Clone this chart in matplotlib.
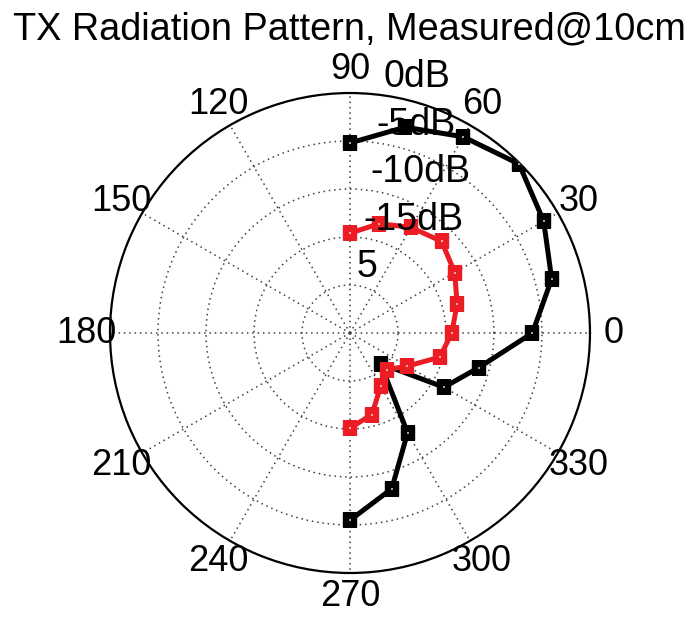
import numpy as np
import matplotlib.pyplot as plt

plt.rcParams['font.family'] = ['Liberation Sans', 'DejaVu Sans']

# measured angles (deg) and relative level (dB)
angles_deg = [90, 75, 60, 45, 30, 15, 0, -15, -30, -45, -60, -75, -90]
black_db = [-5.2, -2.8, -1.4, -0.1, -1.7, -3.25, -6.0, -11.1, -13.7, -20.5, -13.0, -8.2, -5.5]
red_db = [-14.6, -13.2, -12.3, -11.5, -12.4, -13.45, -14.4, -15.3, -18.1, -19.6, -18.6, -16.2, -15.1]

r_offset = 25
r_ticks = [5, 10, 15, 20, 25]
r_tick_labels = ['5', '-15dB', '-10dB', '-5dB', '0dB']
theta_ticks = list(range(0, 360, 30))

fig = plt.figure(figsize=(6.91, 6.18), dpi=100)
ax = fig.add_axes([0.1592, 0.0728, 0.6946, 0.7767], projection='polar')

th = np.deg2rad(angles_deg)
ax.plot(th, np.array(black_db) + r_offset, color='black', lw=3.6,
        marker='s', ms=6.2, mfc='white', mew=4.6, zorder=3)
ax.plot(th, np.array(red_db) + r_offset, color='#ec1c24', lw=3.6,
        marker='s', ms=6.2, mfc='white', mew=4.6, zorder=4)

ax.set_ylim(0, 25)
ax.set_yticks(r_ticks)
ax.set_yticklabels([])
ax.set_xticks(np.deg2rad(theta_ticks))
ax.set_xticklabels([])
ax.grid(True, color='0.25', linestyle=(0, (1, 2.5)), linewidth=1.1)
ax.spines['polar'].set_linewidth(1.6)

for t in theta_ticks:
    ax.text(np.deg2rad(t), 25 * 1.1, str(t), ha='center', va='center',
            fontsize=26, clip_on=False)
for r, lab in zip(r_ticks, r_tick_labels):
    ax.text(np.deg2rad(82), r, lab, ha='left', va='bottom', fontsize=27,
            clip_on=False, zorder=5)

fig.text(0.505, 1 - 29 / 618, 'TX Radiation Pattern, Measured@10cm',
         ha='center', va='center', fontsize=27.3)

fig.savefig('out.png', dpi=100)
